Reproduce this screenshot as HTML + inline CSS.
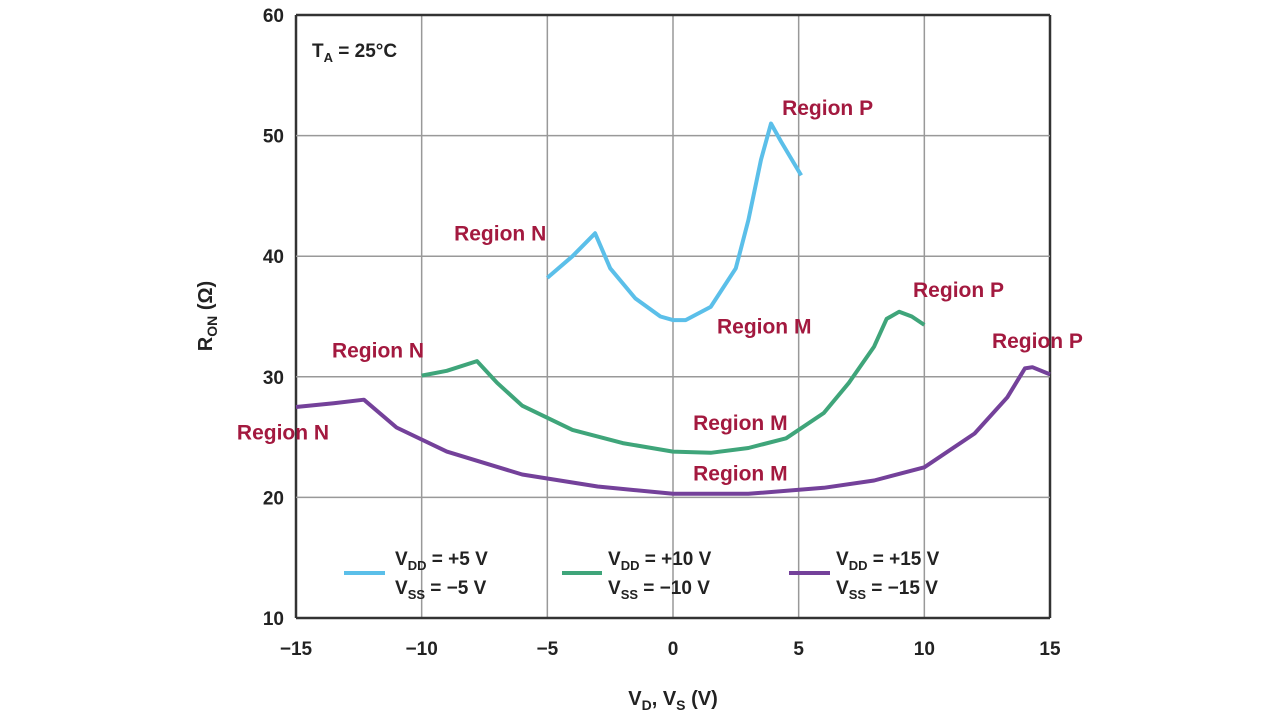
<!DOCTYPE html>
<html><head><meta charset="utf-8"><style>
body{margin:0;background:#fff;}
svg{font-family:"Liberation Sans",sans-serif;}
</style></head><body>
<svg width="1280" height="720" viewBox="0 0 1280 720">
<g id="grid"></g>
<g id="curves"></g>
<g id="labels"></g>
<g><text x="312" y="57" font-size="19" font-weight="bold" fill="#222">T<tspan font-size="13" dy="5">A</tspan><tspan dy="-5"> = 25°C</tspan></text></g>
<text transform="translate(212,316) rotate(-90)" text-anchor="middle" font-size="20" font-weight="bold" fill="#222">R<tspan font-size="14" dy="5">ON</tspan><tspan dy="-5"> (Ω)</tspan></text>
<text x="673" y="705" text-anchor="middle" font-size="20" font-weight="bold" fill="#222">V<tspan font-size="14" dy="5">D</tspan><tspan dy="-5">, V</tspan><tspan font-size="14" dy="5">S</tspan><tspan dy="-5"> (V)</tspan></text>
<g font-size="19" font-weight="bold" fill="#222">
<line x1="344" y1="573" x2="385" y2="573" stroke="#5bbfe9" stroke-width="4"/>
<text x="395" y="565">V<tspan font-size="13" dy="5">DD</tspan><tspan dy="-5"> = +5 V</tspan></text>
<text x="395" y="594">V<tspan font-size="13" dy="5">SS</tspan><tspan dy="-5"> = −5 V</tspan></text>
<line x1="562" y1="573" x2="602" y2="573" stroke="#3fa57a" stroke-width="4"/>
<text x="608" y="565">V<tspan font-size="13" dy="5">DD</tspan><tspan dy="-5"> = +10 V</tspan></text>
<text x="608" y="594">V<tspan font-size="13" dy="5">SS</tspan><tspan dy="-5"> = −10 V</tspan></text>
<line x1="789" y1="573" x2="830" y2="573" stroke="#74419a" stroke-width="4"/>
<text x="836" y="565">V<tspan font-size="13" dy="5">DD</tspan><tspan dy="-5"> = +15 V</tspan></text>
<text x="836" y="594">V<tspan font-size="13" dy="5">SS</tspan><tspan dy="-5"> = −15 V</tspan></text>
</g>
</svg>
<script>
const xTicks=[-15,-10,-5,0,5,10,15];
const yTicks=[10,20,30,40,50,60];
const blueX=[-5,-4,-3.1,-2.5,-1.5,-0.5,0,0.5,1.5,2.5,3,3.5,3.9,4.3,5.1];
const blueY=[38.2,40,41.9,39,36.5,35,34.7,34.7,35.8,39,43,48,51,49.5,46.7];
const greenX=[-10,-9,-7.8,-7,-6,-4,-2,0,1.5,3,4.5,6,7,8,8.5,9,9.5,10];
const greenY=[30.1,30.5,31.3,29.5,27.6,25.6,24.5,23.8,23.7,24.1,24.9,27,29.5,32.5,34.8,35.4,35,34.3];
const purpleX=[-15,-13.5,-12.3,-11,-9,-6,-3,0,3,6,8,10,12,13.3,14,14.3,15];
const purpleY=[27.5,27.8,28.1,25.8,23.8,21.9,20.9,20.3,20.3,20.8,21.4,22.5,25.3,28.3,30.7,30.8,30.2];
const labelText=["Region P","Region N","Region M","Region P","Region N","Region M","Region P","Region N","Region M"];
const labelV=[4.34,-8.71,1.75,9.55,-13.57,0.8,12.69,-17.35,0.8];
const labelR=[51.7,41.3,33.6,36.6,31.6,25.6,32.4,24.8,21.4];
const X0=296,X1=1050,Y0=618,Y1=15;
const sx=v=>X0+(v+15)/30*(X1-X0);
const sy=r=>Y0-(r-10)/50*(Y0-Y1);
const NS="http://www.w3.org/2000/svg";
function mk(tag,attrs,parent){const e=document.createElementNS(NS,tag);for(const k in attrs)e.setAttribute(k,attrs[k]);parent.appendChild(e);return e;}
const grid=document.getElementById('grid');
xTicks.forEach((t,i)=>{
 const edge=(i==0||i==xTicks.length-1);
 const l=mk('line',{x1:sx(t),x2:sx(t),y1:Y1,y2:Y0,stroke:edge?'#333':'#999','stroke-width':edge?2.5:1.5},grid);
 
 
 const tx=mk('text',{x:sx(t),y:655,'text-anchor':'middle','font-size':19,'font-weight':'bold',fill:'#222'},grid);
 tx.textContent=t<0?'−'+(-t):String(t);
 
 
});
yTicks.forEach((t,i)=>{
 const edge=(i==0||i==yTicks.length-1);
 const l=mk('line',{x1:X0,x2:X1,y1:sy(t),y2:sy(t),stroke:edge?'#333':'#999','stroke-width':edge?2.5:1.5},grid);
 
 
 const tx=mk('text',{x:284,y:sy(t)+7,'text-anchor':'end','font-size':19,'font-weight':'bold',fill:'#222'},grid);
 tx.textContent=String(t);
 
 
});
const curves=document.getElementById('curves');
function line(xs,ys,color,name){
 const d=xs.map((v,i)=>(i?'L':'M')+sx(v).toFixed(1)+','+sy(ys[i]).toFixed(1)).join(' ');
 const p=mk('path',{d:d,fill:'none',stroke:color,'stroke-width':4,'stroke-linejoin':'round','stroke-linecap':'butt'},curves);
 
 
}
line(blueX,blueY,'#5bbfe9','series-5v');
line(greenX,greenY,'#3fa57a','series-10v');
line(purpleX,purpleY,'#74419a','series-15v');
const labels=document.getElementById('labels');
labelText.forEach((s,i)=>{
 const t=mk('text',{x:sx(labelV[i]),y:sy(labelR[i]),'font-size':21,'font-weight':'bold',fill:'#a3193f'},labels);
 t.textContent=s;
 
 
});
</script>
</body></html>
